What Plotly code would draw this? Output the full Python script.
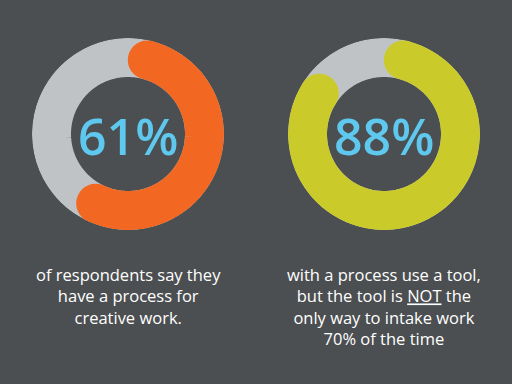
import numpy as np
import plotly.graph_objects as go

# Data
labels = ["61%", "88%"]
values = [61, 88]
colors = ["#f26722", "#cbca2b"]
captions = [
    "of respondents say they<br>have a process for<br>creative work.",
    "with a process use a tool,<br>but the tool is <u>NOT</u> the<br>only way to intake work<br>70% of the time",
]

BG = "#4c4f51"
RING = "#bfc3c5"
BLUE = "#5ec8ee"

R_OUT = 96.0
THICK = 39.0
R_MID = R_OUT - THICK / 2
CAP_DEG = np.degrees((THICK / 2) / R_MID)

fig = go.Figure()

domains_x = [[32 / 512, 224 / 512], [288 / 512, 480 / 512]]
domain_y = [154 / 384, 346 / 384]

for i, (lab, v, c) in enumerate(zip(labels, values, colors)):
    pname = "polar" if i == 0 else "polar2"
    sub = "polar" if i == 0 else "polar2"
    full = np.linspace(0, 380, 381)
    fig.add_trace(go.Scatterpolar(
        r=np.full_like(full, R_MID), theta=full, mode="lines",
        line=dict(color=RING, width=THICK), subplot=sub,
        hoverinfo="skip", showlegend=False))
    end = v / 100 * 360
    arc = np.linspace(CAP_DEG, end - CAP_DEG, 200)
    fig.add_trace(go.Scatterpolar(
        r=np.full_like(arc, R_MID), theta=arc, mode="lines",
        line=dict(color=c, width=THICK), subplot=sub,
        hoverinfo="skip", showlegend=False))
    fig.add_trace(go.Scatterpolar(
        r=[R_MID, R_MID], theta=[arc[0], arc[-1]], mode="markers",
        marker=dict(color=c, size=THICK, line=dict(width=0)), subplot=sub,
        hoverinfo="skip", showlegend=False))
    fig.update_layout(**{pname: dict(
        domain=dict(x=domains_x[i], y=domain_y),
        bgcolor="rgba(0,0,0,0)",
        radialaxis=dict(visible=False, range=[0, R_OUT]),
        angularaxis=dict(visible=False, rotation=90, direction="clockwise"),
    )})
    cx = (domains_x[i][0] + domains_x[i][1]) / 2
    fig.add_annotation(x=cx, y=(384 - 136) / 384, xref="paper", yref="paper",
                       text=lab, showarrow=False,
                       font=dict(family="Open Sans", size=50, color=BLUE, weight=600),
                       xanchor="center", yanchor="middle")
    fig.add_annotation(x=cx, y=(384 - 261) / 384, xref="paper", yref="paper",
                       text=captions[i], showarrow=False, align="center",
                       font=dict(family="Open Sans", size=16.5, color="white", weight=500),
                       xanchor="center", yanchor="top")

fig.update_layout(width=512, height=384, margin=dict(l=0, r=0, t=0, b=0),
                  paper_bgcolor=BG, plot_bgcolor=BG, showlegend=False)
fig.write_html("out.html", config={"displayModeBar": False},
               post_script="document.body.style.margin='0';document.body.style.overflow='hidden';")
